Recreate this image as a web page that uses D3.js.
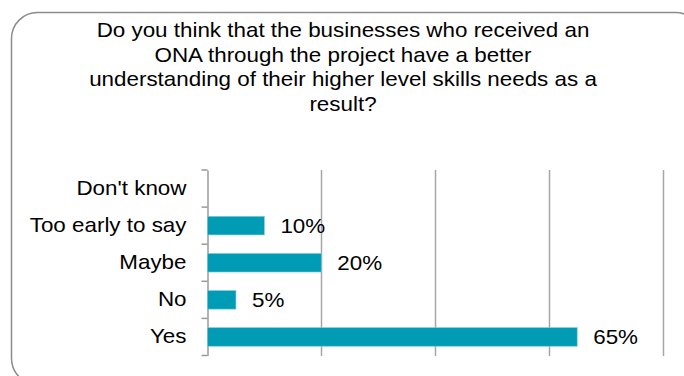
<!DOCTYPE html>
<html>
<head>
<meta charset="utf-8">
<script src="https://cdn.jsdelivr.net/npm/d3@7"></script>
<style>
  html, body { margin: 0; padding: 0; background: #fff; }
  svg { display: block; font-family: "Liberation Sans", Arial, Helvetica, sans-serif; }
</style>
</head>
<body>
<svg id="chart" width="684" height="376"></svg>
<script>
// Survey answers, top to bottom as drawn
const categories = ["Don't know", "Too early to say", "Maybe", "No", "Yes"];
const shares = [null, 10, 20, 5, 65];
const xTicks = [0, 20, 40, 60, 80];
const titleLines = [
  "Do you think that the businesses who received an",
  "ONA through the project have a better",
  "understanding of their higher level skills needs as a",
  "result?"
];

const FONT = 20;
const WIDEN = 1.12; // the typeface is set slightly wide

const svg = d3.select("#chart");

// Rounded frame around the whole chart
svg.append("rect")
  .attr("x", 11.5).attr("y", 12.5)
  .attr("width", 690).attr("height", 372)
  .attr("rx", 26).attr("ry", 26)
  .attr("fill", "#fff")
  .attr("stroke", "#8c8c8c")
  .attr("stroke-width", 1.5);

// Title
svg.append("g")
  .selectAll("text")
  .data(titleLines)
  .join("text")
  .attr("transform", (d, i) => `translate(343,${37 + i * 24.7}) scale(${WIDEN},1)`)
  .attr("text-anchor", "middle")
  .attr("font-size", FONT)
  .attr("fill", "#000")
  .text(d => d);

const x = d3.scaleLinear().domain([0, 80]).range([207.5, 662.5]);
const y = d3.scaleBand().domain(categories).range([170, 355.5]).paddingInner(0.5).paddingOuter(0.25);

// Vertical gridlines
svg.append("g")
  .selectAll("line")
  .data(xTicks.slice(1))
  .join("line")
  .attr("x1", d => Math.round(x(d)) + 0.5)
  .attr("x2", d => Math.round(x(d)) + 0.5)
  .attr("y1", 170).attr("y2", 356)
  .attr("stroke", "#a6a6a6")
  .attr("stroke-width", 1.5);

// Category axis with ticks at band boundaries
const yAxis = d3.axisLeft(y).tickSize(0).tickPadding(21);
const gy = svg.append("g").attr("transform", "translate(207.5,0)").call(yAxis);
gy.select(".domain").attr("stroke", "#9a9a9a").attr("stroke-width", 1.5);
gy.selectAll(".tick text")
  .attr("x", -21 / WIDEN)
  .attr("transform", `scale(${WIDEN},1)`)
  .attr("font-size", FONT)
  .attr("fill", "#000")
  .attr("font-family", "Liberation Sans, Arial, sans-serif");

const bounds = d3.range(categories.length + 1).map(i => 170 + i * (355.5 - 170) / categories.length);
gy.selectAll(".bound")
  .data(bounds)
  .join("line")
  .attr("class", "bound")
  .attr("x1", -6).attr("x2", 0)
  .attr("y1", d => d).attr("y2", d => d)
  .attr("stroke", "#9a9a9a")
  .attr("stroke-width", 1.5);

// Bars
const rows = categories.map((c, i) => ({ c, v: shares[i] })).filter(d => d.v != null);
svg.append("g")
  .selectAll("rect")
  .data(rows)
  .join("rect")
  .attr("x", x(0))
  .attr("y", d => y(d.c))
  .attr("width", d => x(d.v) - x(0))
  .attr("height", y.bandwidth())
  .attr("fill", "#009cb5")
  .attr("stroke", "#7ccbd8")
  .attr("stroke-width", 0.6);

// Value labels
svg.append("g")
  .selectAll("text")
  .data(rows)
  .join("text")
  .attr("transform", d => `translate(${x(d.v) + 16},${y(d.c) + y.bandwidth() / 2}) scale(${WIDEN},1)`)
  .attr("dy", "0.36em")
  .attr("font-size", FONT)
  .attr("fill", "#000")
  .text(d => d.v + "%");
</script>
</body>
</html>
